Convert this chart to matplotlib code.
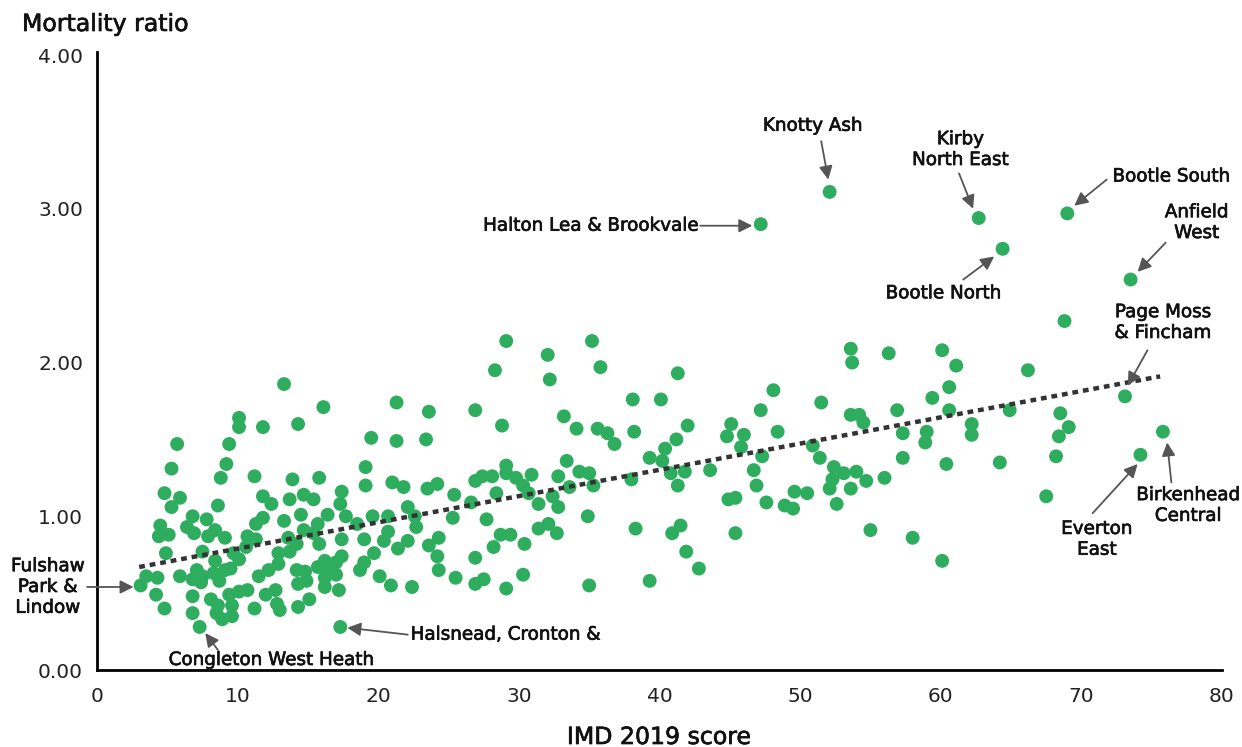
import numpy as np
import matplotlib
matplotlib.use("Agg")
import matplotlib.pyplot as plt
import matplotlib.patheffects as pe

plt.rcParams['font.family'] = ['DejaVu Sans']

# IMD 2019 score / mortality ratio, grouped by IMD band
imd_a = [13.3, 16.1, 10.1, 10.1, 11.8, 14.3, 19.5, 5.7, 9.4, 5.3,
         9.2, 8.8, 11.2, 13.9, 15.8, 19.1, 19.1, 4.8, 5.9, 5.3,
         8.6, 11.8, 12.4, 13.7, 14.7, 15.4, 17.4, 17.3, 17.7, 19.6,
         4.5, 4.4, 5.1, 6.8, 6.4, 6.9, 7.8, 7.9, 8.4, 9.1,
         10.7, 11.3, 11.8, 11.3, 10.6, 13.3, 14.5, 14.7, 15.7, 16.4,
         13.6, 14.2, 15.4, 15.8, 17.4, 18.5, 19.0, 19.7, 4.9, 7.5,
         9.7, 12.9, 13.7, 17.4, 3.1, 3.5, 4.3, 4.2, 4.8, 5.9,
         6.8, 7.1, 7.5, 7.4, 8.4, 8.3, 8.7, 9.1, 9.5, 10.1,
         6.8, 6.8, 7.3, 8.1, 8.6, 9.4, 9.6, 9.6, 8.9, 8.5,
         10.1, 10.7, 11.2, 11.5, 12.2, 12.9, 12.0, 12.7, 12.8, 13.0,
         14.2, 14.8, 14.3, 14.9, 14.3, 15.1, 15.7, 16.2, 16.5, 16.2,
         16.2, 17.0, 17.0, 17.2, 18.7, 19.0, 17.3]
ratio_a = [1.86, 1.71, 1.64, 1.58, 1.58, 1.60, 1.51, 1.47, 1.47, 1.31,
           1.34, 1.25, 1.26, 1.24, 1.25, 1.32, 1.20, 1.15, 1.12, 1.06,
           1.07, 1.13, 1.08, 1.11, 1.14, 1.11, 1.16, 1.08, 1.00, 1.00,
           0.94, 0.87, 0.88, 1.00, 0.93, 0.89, 0.98, 0.87, 0.91, 0.86,
           0.87, 0.95, 0.99, 0.85, 0.80, 0.97, 1.01, 0.91, 0.95, 1.01,
           0.86, 0.82, 0.89, 0.82, 0.85, 0.95, 0.85, 0.76, 0.76, 0.77,
           0.76, 0.76, 0.77, 0.74, 0.55, 0.61, 0.60, 0.49, 0.40, 0.61,
           0.59, 0.65, 0.61, 0.57, 0.71, 0.63, 0.58, 0.65, 0.66, 0.72,
           0.48, 0.37, 0.28, 0.46, 0.42, 0.49, 0.42, 0.35, 0.33, 0.37,
           0.51, 0.52, 0.40, 0.61, 0.65, 0.69, 0.49, 0.52, 0.43, 0.39,
           0.65, 0.64, 0.56, 0.58, 0.41, 0.46, 0.67, 0.71, 0.65, 0.60,
           0.54, 0.70, 0.62, 0.52, 0.65, 0.70, 0.28]

imd_b = [29.1, 32.05, 35.2, 28.3, 32.2, 35.8, 21.3, 23.6, 26.9, 28.8,
         33.2, 34.1, 35.6, 36.3, 36.8, 38.1, 38.2, 21.3, 23.4, 21.0,
         21.8, 23.5, 24.2, 25.4, 26.9, 27.4, 28.1, 29.1, 29.1, 29.8,
         30.3, 30.9, 28.4, 30.7, 31.4, 32.4, 32.8, 32.8, 33.4, 33.6,
         34.3, 35.0, 35.3, 38.0, 39.3, 20.7, 22.1, 22.6, 22.7, 25.3,
         26.6, 27.7, 20.7, 20.4, 21.4, 22.1, 23.6, 24.3, 24.2, 24.3,
         25.5, 26.9, 26.9, 27.5, 28.2, 28.7, 29.4, 30.4, 29.1, 30.3,
         31.4, 32.1, 32.7, 34.9, 35.0, 38.3, 39.3, 20.1, 20.9, 22.4]
ratio_b = [2.14, 2.05, 2.14, 1.95, 1.89, 1.97, 1.74, 1.68, 1.69, 1.59,
           1.65, 1.57, 1.57, 1.54, 1.47, 1.76, 1.55, 1.49, 1.50, 1.22,
           1.19, 1.18, 1.21, 1.14, 1.23, 1.26, 1.26, 1.33, 1.28, 1.25,
           1.20, 1.27, 1.15, 1.15, 1.08, 1.13, 1.06, 1.26, 1.36, 1.19,
           1.29, 1.28, 1.20, 1.24, 1.38, 1.00, 1.06, 1.00, 0.93, 0.99,
           1.09, 0.98, 0.90, 0.84, 0.79, 0.84, 0.81, 0.86, 0.74, 0.65,
           0.60, 0.73, 0.56, 0.59, 0.80, 0.88, 0.88, 0.82, 0.53, 0.62,
           0.92, 0.95, 0.89, 1.00, 0.55, 0.92, 0.58, 0.61, 0.55, 0.54]

imd_c = [41.3, 40.1, 42.0, 41.2, 40.4, 40.2, 40.8, 41.8, 41.3, 43.6,
         45.1, 44.8, 46.0, 45.8, 47.2, 48.1, 48.4, 47.3, 46.7, 46.9,
         44.9, 45.4, 47.6, 48.9, 49.5, 49.6, 50.5, 50.9, 51.4, 51.5,
         52.4, 52.3, 52.1, 52.6, 53.1, 54.0, 53.6, 54.7, 56.0, 53.6,
         53.7, 56.3, 53.6, 54.2, 54.5, 56.9, 57.3, 57.3, 40.9, 41.5,
         41.9, 42.8, 45.4, 55.0, 58.0]
ratio_c = [1.93, 1.76, 1.59, 1.50, 1.44, 1.36, 1.28, 1.29, 1.20, 1.30,
           1.60, 1.52, 1.53, 1.45, 1.69, 1.82, 1.55, 1.39, 1.30, 1.20,
           1.11, 1.12, 1.09, 1.07, 1.05, 1.16, 1.15, 1.46, 1.38, 1.74,
           1.32, 1.24, 1.18, 1.08, 1.28, 1.29, 1.18, 1.23, 1.25, 2.09,
           2.00, 2.06, 1.66, 1.66, 1.61, 1.69, 1.54, 1.38, 0.89, 0.94,
           0.77, 0.66, 0.89, 0.91, 0.86]

imd_d = [68.8, 60.1, 61.1, 66.2, 60.6, 59.4, 60.6, 64.9, 68.5, 69.1,
         68.4, 68.2, 73.1, 62.2, 62.2, 59.0, 58.9, 60.4, 64.2, 67.5,
         60.1, 74.2, 75.8]
ratio_d = [2.27, 2.08, 1.98, 1.95, 1.84, 1.77, 1.69, 1.69, 1.67, 1.58,
           1.52, 1.39, 1.78, 1.60, 1.53, 1.55, 1.48, 1.34, 1.35, 1.13,
           0.71, 1.40, 1.55]

# high outliers
imd_e = [52.1, 47.2, 62.7, 69.0, 64.4, 73.5]
ratio_e = [3.11, 2.90, 2.94, 2.97, 2.74, 2.54]

# trend line end points
trend_x = [3.0, 75.6]
trend_y = [0.67, 1.91]

# labelled wards: text, text pos, arrow tail, arrow head, alignment
labels = [
    ("Fulshaw\nPark &\nLindow", (-3.5, 0.54), (-0.7, 0.54), (2.6, 0.54), 'center'),
    ("Congleton West Heath", (12.4, 0.065), (8.6, 0.13), (7.7, 0.24), 'center'),
    ("Halsnead, Cronton &", (22.3, 0.23), (22.1, 0.23), (17.8, 0.275), 'left'),
    ("Halton Lea & Brookvale", (42.8, 2.89), (42.9, 2.89), (46.6, 2.89), 'right'),
    ("Knotty Ash", (50.9, 3.54), (51.5, 3.44), (52.0, 3.19), 'center'),
    ("Kirby\nNorth East", (61.4, 3.385), (61.3, 3.23), (62.3, 3.00), 'center'),
    ("Bootle South", (76.4, 3.21), (71.8, 3.19), (69.5, 3.02), 'center'),
    ("Anfield\nWest", (78.2, 2.91), (76.0, 2.78), (74.0, 2.59), 'center'),
    ("Bootle North", (60.2, 2.45), (61.6, 2.54), (63.8, 2.69), 'center'),
    ("Page Moss\n& Fincham", (75.8, 2.26), (74.7, 2.08), (73.3, 1.85), 'center'),
    ("Everton\nEast", (71.1, 0.85), (70.8, 1.02), (74.0, 1.34), 'center'),
    ("Birkenhead\nCentral", (77.6, 1.07), (76.4, 1.22), (76.1, 1.48), 'center'),
]

imd = imd_a + imd_b + imd_c + imd_d + imd_e
ratio = ratio_a + ratio_b + ratio_c + ratio_d + ratio_e
assert len(imd) == len(ratio)

fig = plt.figure(figsize=(12.42, 7.47), dpi=100)
ax = fig.add_axes([97 / 1242, 77 / 747, 1125 / 1242, 618 / 747])

ax.scatter(imd, ratio, s=100, color='#2ead5f', edgecolors='none', zorder=3)
ax.plot(trend_x, trend_y, color='#333333', lw=3.2, linestyle=(0, (1.3, 1.1)), zorder=4)

medium = [pe.withStroke(linewidth=0.5, foreground='#111111')]
for txt, tpos, tail, head, ha in labels:
    ax.text(tpos[0], tpos[1], txt, ha=ha, va='center', fontsize=13.2,
            color='#111111', linespacing=1.2, zorder=5, clip_on=False,
            path_effects=medium)
    ax.annotate('', xy=head, xytext=tail,
                arrowprops=dict(arrowstyle='-|>', color='#555555', lw=1.3,
                                mutation_scale=20, shrinkA=0, shrinkB=0),
                annotation_clip=False, zorder=5)

ax.set_xlim(0, 80)
ax.set_ylim(0, 4.02)
ax.set_xticks(range(0, 81, 10))
ax.set_yticks([0, 1, 2, 3, 4])
ax.set_yticklabels(['0.00', '1.00', '2.00', '3.00', '4.00'])
ax.tick_params(length=0, labelsize=14.5, labelcolor='#222222')
ax.tick_params(axis='y', pad=10)
ax.tick_params(axis='x', pad=12)
for side in ['top', 'right']:
    ax.spines[side].set_visible(False)
for side in ['left', 'bottom']:
    ax.spines[side].set_linewidth(2)
    ax.spines[side].set_color('black')

fig.text(22 / 1242, 1 - 24 / 747, 'Mortality ratio', fontsize=17,
         va='center', ha='left', color='#111111', path_effects=medium)
fig.text(659 / 1242, 1 - 737 / 747, 'IMD 2019 score', fontsize=17,
         va='center', ha='center', color='#111111', path_effects=medium)

fig.savefig('out.png', dpi=100)
